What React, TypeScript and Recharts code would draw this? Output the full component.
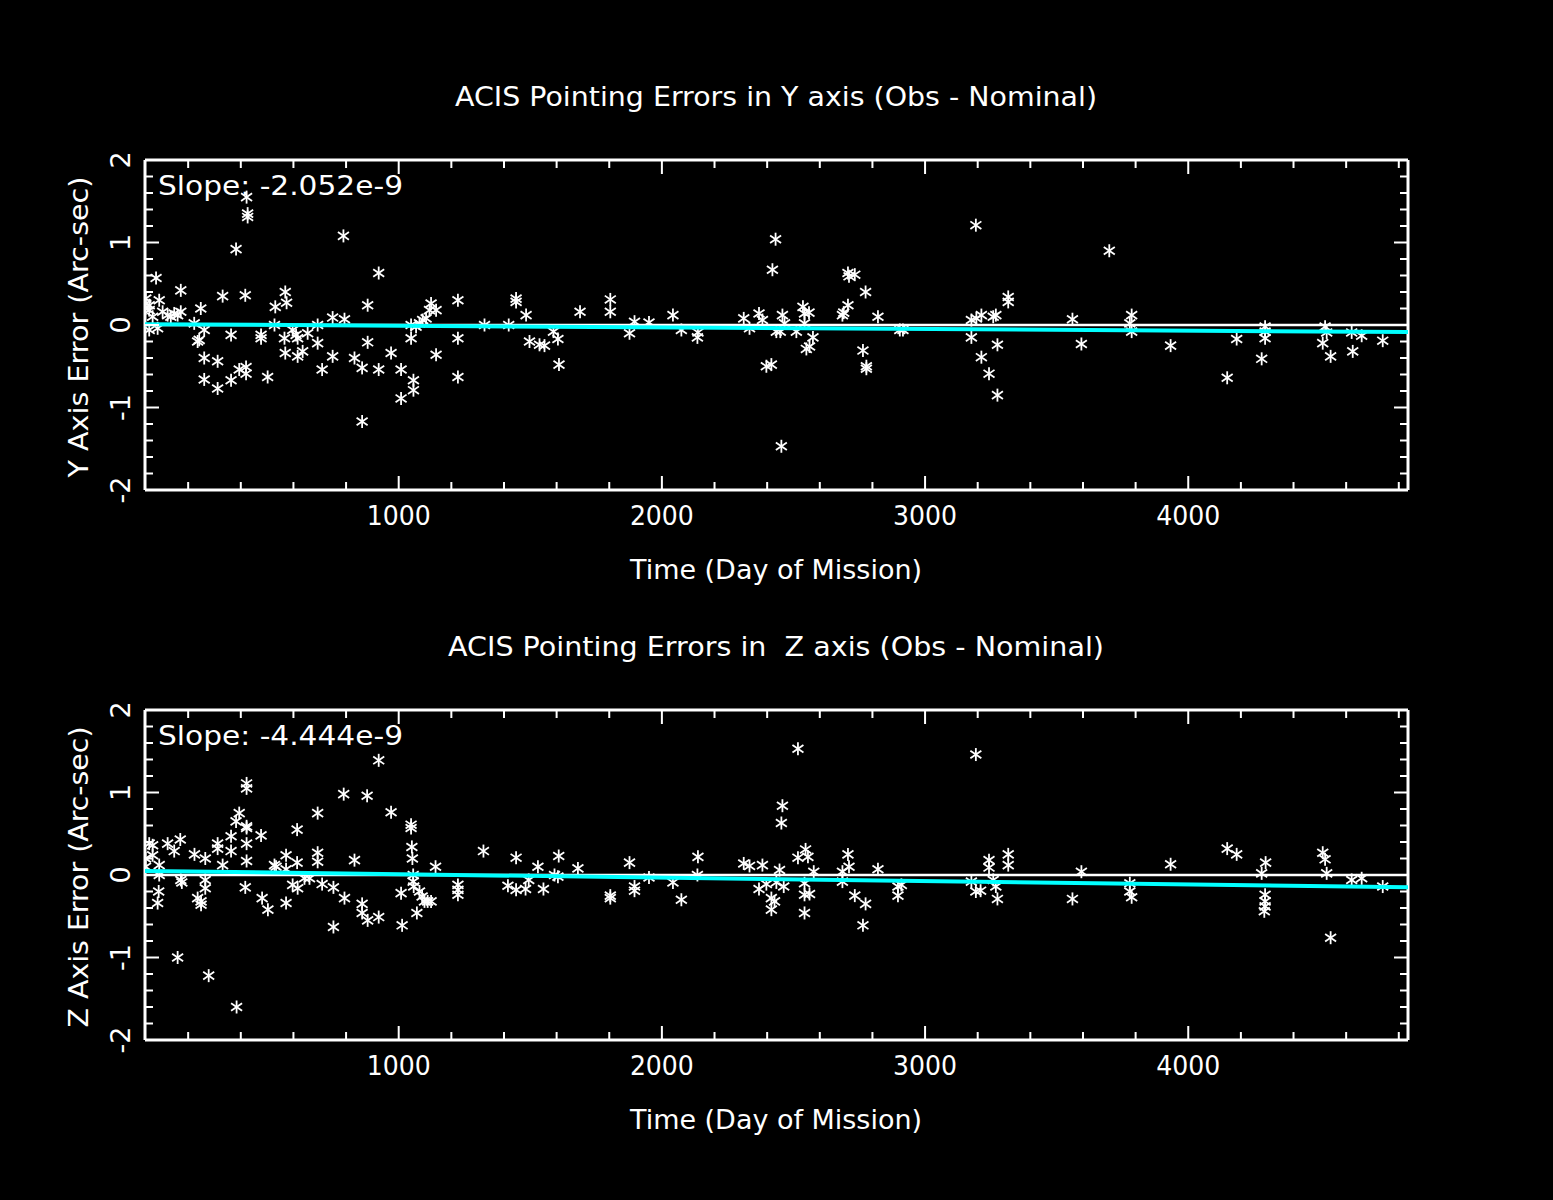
import React from "react";
import { ScatterChart, Scatter, XAxis, YAxis, ReferenceLine } from "recharts";

// ---------- data ----------
const X_DOMAIN = [36, 4835];
const Y_DOMAIN = [-2, 2];
const X_TICKS_MINOR = [200, 400, 600, 800, 1000, 1200, 1400, 1600, 1800, 2000, 2200, 2400, 2600, 2800, 3000, 3200, 3400, 3600, 3800, 4000, 4200, 4400, 4600, 4800];
const X_TICK_LABELS = [1000, 2000, 3000, 4000];
const Y_TICKS_MINOR = [-2, -1.8, -1.6, -1.4, -1.2, -1, -0.8, -0.6, -0.4, -0.2, 0, 0.2, 0.4, 0.6, 0.8, 1, 1.2, 1.4, 1.6, 1.8, 2];
const Y_TICK_LABELS = [-2, -1, 0, 1, 2];

const yDays = [
  39, 39, 38, 52, 52, 65, 78, 90, 84, 52, 103, 122, 134, 147, 160, 172, 172, 223, 248, 242,
  236, 261, 261, 261, 312, 312, 331, 363, 363, 382, 394, 420, 420, 422, 426, 426, 417, 477, 477, 502,
  528, 531, 569, 574, 566, 569, 597, 610, 616, 616, 635, 654, 692, 692, 709, 749, 749, 790, 794, 832,
  861, 861, 882, 882, 924, 924, 971, 1009, 1009, 1047, 1047, 1056, 1056, 1066, 1079, 1091, 1104, 1117, 1123, 1142,
  1142, 1225, 1225, 1225, 1326, 1418, 1446, 1446, 1484, 1497, 1535, 1554, 1588, 1605, 1609, 1689, 1804, 1804, 1896, 1877,
  1951, 2042, 2074, 2137, 2135, 2311, 2333, 2369, 2382, 2397, 2416, 2432, 2420, 2435, 2450, 2458, 2466, 2454, 2511, 2536,
  2542, 2559, 2542, 2574, 2549, 2561, 2686, 2691, 2707, 2711, 2733, 2707, 2774, 2764, 2777, 2777, 2821, 2904, 2916, 3193,
  3176, 3195, 3214, 3176, 3214, 3243, 3275, 3275, 3259, 3269, 3316, 3316, 3560, 3594, 3700, 3785, 3778, 3785, 3933, 4148,
  4184, 4292, 4292, 4292, 4279, 4520, 4526, 4511, 4541, 4621, 4625, 4659, 4739,
];
const yErrors = [
  0.32, 0.26, 0.2, 0.24, 0.18, 0.1, 0.57, 0.3, -0.04, -0.06, 0.16, 0.12, 0.1, 0.14, 0.12, 0.16, 0.42, 0.02, 0.2, -0.18,
  -0.2, -0.06, -0.4, -0.66, -0.44, -0.77, 0.35, -0.67, -0.12, 0.92, -0.54, -0.51, -0.59, 1.55, 1.35, 1.31, 0.36, -0.12, -0.16, -0.63,
  0, 0.22, 0.4, 0.27, -0.16, -0.34, -0.06, -0.12, -0.16, -0.38, -0.32, -0.1, 0, -0.22, -0.54, 0.09, -0.38, 1.08, 0.07, -0.4,
  -0.52, -1.17, 0.24, -0.21, 0.63, -0.54, -0.34, -0.54, -0.89, 0, -0.16, -0.67, -0.79, -0.02, 0.02, 0.06, 0.08, 0.18, 0.26, 0.18,
  -0.36, 0.3, -0.16, -0.63, 0, 0, 0.32, 0.28, 0.12, -0.2, -0.24, -0.25, -0.08, -0.17, -0.48, 0.16, 0.31, 0.16, 0.04, -0.1,
  0.03, 0.12, -0.06, -0.09, -0.15, 0.08, -0.04, 0.14, 0.06, -0.5, -0.48, 1.04, 0.67, -0.08, -0.08, 0.12, 0.02, -1.47, -0.08, 0.22,
  0.14, 0.15, 0.02, -0.15, -0.29, -0.26, 0.12, 0.15, 0.24, 0.59, 0.61, 0.63, 0.4, -0.31, -0.5, -0.53, 0.1, -0.06, -0.06, 1.21,
  0.06, 0.08, 0.12, -0.15, -0.39, -0.59, -0.24, -0.85, 0.1, 0.12, 0.34, 0.28, 0.07, -0.23, 0.9, 0.12, 0.02, -0.08, -0.25, -0.64,
  -0.17, -0.02, -0.08, -0.16, -0.41, -0.02, -0.09, -0.22, -0.38, -0.09, -0.32, -0.13, -0.19,
];

const zDays = [
  38, 38, 52, 65, 65, 90, 90, 88, 84, 122, 147, 170, 172, 176, 160, 224, 236, 249, 249, 265,
  265, 265, 278, 312, 312, 331, 363, 363, 382, 394, 384, 417, 422, 422, 422, 422, 422, 422, 477, 481,
  503, 528, 534, 572, 572, 572, 597, 614, 614, 616, 642, 661, 692, 692, 692, 709, 752, 752, 791, 794,
  832, 861, 861, 880, 882, 924, 924, 971, 1009, 1013, 1047, 1047, 1050, 1052, 1055, 1055, 1057, 1069, 1079, 1089,
  1098, 1110, 1123, 1140, 1225, 1225, 1225, 1322, 1415, 1446, 1446, 1482, 1494, 1529, 1550, 1592, 1608, 1605, 1681, 1804,
  1804, 1877, 1896, 1896, 1951, 2042, 2074, 2137, 2135, 2311, 2333, 2369, 2382, 2397, 2416, 2428, 2416, 2435, 2447, 2458,
  2454, 2463, 2517, 2546, 2555, 2542, 2542, 2561, 2542, 2517, 2577, 2686, 2686, 2707, 2711, 2733, 2774, 2764, 2821, 2897,
  2897, 2910, 3193, 3176, 3193, 3211, 3243, 3243, 3259, 3269, 3275, 3316, 3316, 3560, 3594, 3778, 3778, 3785, 3933, 4148,
  4184, 4294, 4279, 4292, 4292, 4292, 4289, 4511, 4520, 4526, 4541, 4621, 4659, 4739,
];
const zErrors = [
  0.2, 0.1, 0.38, 0.36, 0.24, 0.12, 0, -0.2, -0.34, 0.38, 0.29, 0.43, -0.06, -0.09, -1.0, 0.25, -0.28, -0.32, -0.36, 0.2,
  -0.06, -0.16, -1.22, 0.38, 0.32, 0.12, 0.47, 0.29, 0.65, 0.75, -1.6, -0.15, 1.11, 1.05, 0.59, 0.57, 0.38, 0.17, 0.48, -0.28,
  -0.42, 0.12, 0.1, 0.24, 0.07, -0.34, -0.12, 0.55, 0.15, -0.16, -0.04, -0.04, 0.75, 0.27, 0.16, -0.11, -0.15, -0.63, 0.98, -0.28,
  0.18, -0.35, -0.46, 0.96, -0.55, 1.39, -0.51, 0.76, -0.22, -0.61, 0.61, 0.57, 0.34, 0.2, 0, -0.08, -0.14, -0.46, -0.2, -0.26,
  -0.32, -0.32, -0.32, 0.1, -0.12, -0.18, -0.24, 0.29, -0.13, 0.21, -0.18, -0.17, -0.06, 0.1, -0.17, 0, 0.23, -0.02, 0.08, -0.25,
  -0.28, 0.15, -0.14, -0.19, -0.03, -0.09, -0.3, 0.22, 0, 0.14, 0.11, -0.17, 0.12, -0.11, -0.28, -0.32, -0.42, -0.09, 0.06, 0.84,
  0.63, -0.14, 0.21, 0.31, 0.22, -0.1, -0.24, -0.23, -0.46, 1.53, 0.04, 0.04, -0.08, 0.25, 0.1, -0.25, -0.35, -0.61, 0.07, -0.14,
  -0.25, -0.12, 1.46, -0.08, -0.2, -0.19, 0.18, 0.09, -0.06, -0.14, -0.29, 0.25, 0.12, -0.29, 0.04, -0.1, -0.2, -0.27, 0.13, 0.32,
  0.25, 0.15, 0.02, -0.24, -0.32, -0.38, -0.44, 0.27, 0.19, 0.02, -0.76, -0.06, -0.04, -0.14,
];

// fitted trend lines (endpoints)
const yFitDays = [36, 4835];
const yFitValues = [0.01, -0.085];
const zFitDays = [36, 4835];
const zFitValues = [0.05, -0.15];

const yTitle = "ACIS Pointing Errors in Y axis (Obs - Nominal)";
const zTitle = "ACIS Pointing Errors in  Z axis (Obs - Nominal)";
const yAxisTitle = "Y Axis Error (Arc-sec)";
const zAxisTitle = "Z Axis Error (Arc-sec)";
const xAxisTitle = "Time (Day of Mission)";
const ySlope = "Slope: -2.052e-9";
const zSlope = "Slope: -4.444e-9";

// ---------- rendering ----------
const FONT = "'DejaVu Sans', sans-serif";
const WHITE = "#ffffff";
const CYAN = "#00ffff";

const isMajor = (v: number) => Math.abs(v - Math.round(v)) < 1e-6;

const BottomTick = (props: any) => {
  const { x, y, payload } = props;
  const v = payload.value;
  const major = X_TICK_LABELS.includes(v);
  return (
    <g>
      <line x1={x} x2={x} y1={y} y2={y - (major ? 14 : 8)} stroke={WHITE} strokeWidth={2} />
      {major && (
        <text x={x} y={y + 35} textAnchor="middle" fill={WHITE} fontSize={26} fontFamily={FONT} textLength={64} lengthAdjust="spacingAndGlyphs">
          {v}
        </text>
      )}
    </g>
  );
};
const TopTick = (props: any) => {
  const { x, y, payload } = props;
  const major = X_TICK_LABELS.includes(payload.value);
  return <line x1={x} x2={x} y1={y} y2={y + (major ? 14 : 8)} stroke={WHITE} strokeWidth={2} />;
};
const LeftTick = (props: any) => {
  const { x, y, payload } = props;
  const v = payload.value;
  const major = isMajor(v);
  const lx = x - 25;
  const r = Math.round(v);
  return (
    <g>
      <line x1={x} x2={x + (major ? 14 : 8)} y1={y} y2={y} stroke={WHITE} strokeWidth={2} />
      {major && Y_TICK_LABELS.includes(r) && (
        <text
          x={lx}
          y={y}
          textAnchor="middle"
          dominantBaseline="central"
          fill={WHITE}
          fontSize={27}
          fontFamily={FONT}
          transform={`rotate(-90, ${lx}, ${y})`}
        >
          {r < 0 ? `-${Math.abs(r)}` : r}
        </text>
      )}
    </g>
  );
};
const RightTick = (props: any) => {
  const { x, y, payload } = props;
  const major = isMajor(payload.value);
  return <line x1={x} x2={x - (major ? 14 : 8)} y1={y} y2={y} stroke={WHITE} strokeWidth={2} />;
};

const Asterisk = (props: any) => {
  const { cx, cy } = props;
  if (cx == null || cy == null) return <g />;
  return (
    <g stroke={WHITE} strokeWidth={1.8}>
      <line x1={cx} y1={cy - 6.5} x2={cx} y2={cy + 6.5} />
      <line x1={cx - 5.5} y1={cy - 3.8} x2={cx + 5.5} y2={cy + 3.8} />
      <line x1={cx - 5.5} y1={cy + 3.8} x2={cx + 5.5} y2={cy - 3.8} />
    </g>
  );
};
const NoShape = () => <g />;

const zip = (xs: number[], ys: number[]) => xs.map((x, i) => ({ x, y: ys[i] }));

const Panel = ({ days, errors, fitDays, fitValues }: any) => {
  const data = zip(days, errors);
  const fit = zip(fitDays, fitValues);
  const axisLine = { stroke: WHITE, strokeWidth: 3 };
  return (
    <ScatterChart width={1553} height={600} margin={{ top: 130, right: 85, bottom: 80, left: 85 }}>
      <XAxis
        xAxisId="b"
        type="number"
        dataKey="x"
        orientation="bottom"
        domain={X_DOMAIN}
        allowDataOverflow
        ticks={X_TICKS_MINOR}
        interval={0}
        tick={BottomTick}
        tickLine={false}
        tickSize={0}
        tickMargin={0}
        axisLine={axisLine}
        height={30}
      />
      <XAxis
        xAxisId="t"
        type="number"
        dataKey="x"
        orientation="top"
        domain={X_DOMAIN}
        allowDataOverflow
        ticks={X_TICKS_MINOR}
        interval={0}
        tick={TopTick}
        tickLine={false}
        tickSize={0}
        tickMargin={0}
        axisLine={axisLine}
        height={30}
      />
      <YAxis
        yAxisId="l"
        type="number"
        dataKey="y"
        orientation="left"
        domain={Y_DOMAIN}
        allowDataOverflow
        ticks={Y_TICKS_MINOR}
        interval={0}
        tick={LeftTick}
        tickLine={false}
        tickSize={0}
        tickMargin={0}
        axisLine={axisLine}
        width={60}
      />
      <YAxis
        yAxisId="r"
        type="number"
        dataKey="y"
        orientation="right"
        domain={Y_DOMAIN}
        allowDataOverflow
        ticks={Y_TICKS_MINOR}
        interval={0}
        tick={RightTick}
        tickLine={false}
        tickSize={0}
        tickMargin={0}
        axisLine={axisLine}
        width={60}
      />
      <ReferenceLine xAxisId="b" yAxisId="l" y={0} stroke={WHITE} strokeWidth={2.5} />
      <Scatter xAxisId="b" yAxisId="l" data={data} shape={Asterisk} isAnimationActive={false} />
      <Scatter
        xAxisId="t"
        yAxisId="r"
        data={fit}
        shape={NoShape}
        line={{ stroke: CYAN, strokeWidth: 4 }}
        isAnimationActive={false}
      />
    </ScatterChart>
  );
};

const Texts = () => (
  <svg width={1553} height={1200} style={{ position: "absolute", left: 0, top: 0, pointerEvents: "none" }}>
    <g fill={WHITE} fontFamily={FONT} fontSize={26} style={{ whiteSpace: "pre" }}>
      <text x={776} y={106} textAnchor="middle" textLength={642} lengthAdjust="spacingAndGlyphs">{yTitle}</text>
      <text x={776} y={656} textAnchor="middle" textLength={656} lengthAdjust="spacingAndGlyphs" xmlSpace="preserve">{zTitle}</text>
      <text x={776} y={579} textAnchor="middle" textLength={292} lengthAdjust="spacingAndGlyphs">{xAxisTitle}</text>
      <text x={776} y={1129} textAnchor="middle" textLength={292} lengthAdjust="spacingAndGlyphs">{xAxisTitle}</text>
      <text x={158} y={195} textLength={245} lengthAdjust="spacingAndGlyphs">{ySlope}</text>
      <text x={158} y={745} textLength={245} lengthAdjust="spacingAndGlyphs">{zSlope}</text>
      <text x={88} y={327} textAnchor="middle" textLength={301} lengthAdjust="spacingAndGlyphs" transform="rotate(-90, 88, 327)">{yAxisTitle}</text>
      <text x={88} y={877} textAnchor="middle" textLength={301} lengthAdjust="spacingAndGlyphs" transform="rotate(-90, 88, 877)">{zAxisTitle}</text>
    </g>
  </svg>
);

export default function App() {
  return (
    <div style={{ position: "absolute", left: 0, top: 0, width: 1553, height: 1200, background: "#000", overflow: "hidden" }}>
      <div style={{ position: "absolute", left: 0, top: 0 }}>
        <Panel days={yDays} errors={yErrors} fitDays={yFitDays} fitValues={yFitValues} />
      </div>
      <div style={{ position: "absolute", left: 0, top: 550 }}>
        <Panel days={zDays} errors={zErrors} fitDays={zFitDays} fitValues={zFitValues} />
      </div>
      <Texts />
    </div>
  );
}
